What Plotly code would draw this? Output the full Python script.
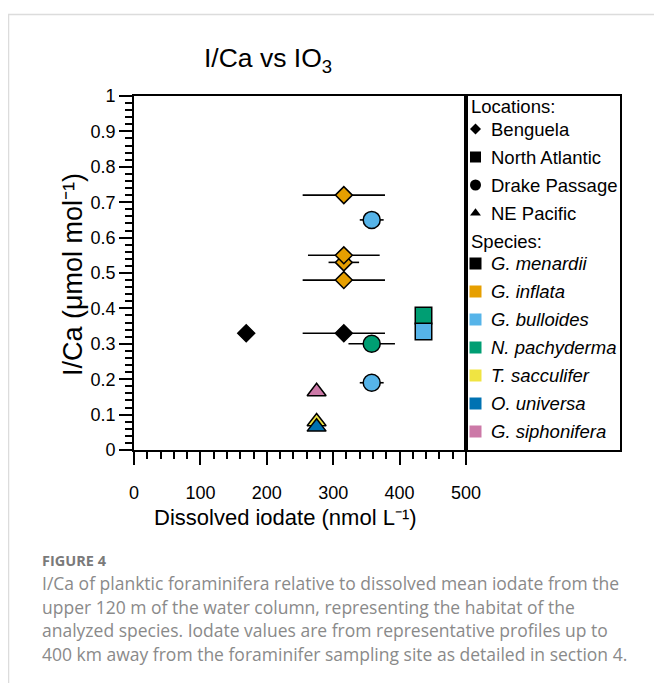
import plotly.graph_objects as go

# ---------------- data ----------------
species = ["G. menardii", "G. inflata", "G. bulloides", "N. pachyderma",
           "T. sacculifer", "O. universa", "G. siphonifera"]
species_colors = ["#000000", "#E69F00", "#56B4E9", "#009E73",
                  "#F0E442", "#0072B2", "#CC79A7"]
locations = ["Benguela", "North Atlantic", "Drake Passage", "NE Pacific"]
location_symbols = ["diamond", "square", "circle", "triangle-up"]

point_species = ["G. menardii", "G. menardii", "G. inflata", "G. inflata", "G. inflata",
                 "G. inflata", "G. bulloides", "G. bulloides", "N. pachyderma",
                 "N. pachyderma", "G. bulloides", "T. sacculifer", "O. universa",
                 "G. siphonifera"]
point_location = ["Benguela", "Benguela", "Benguela", "Benguela", "Benguela",
                  "Benguela", "Drake Passage", "Drake Passage", "Drake Passage",
                  "North Atlantic", "North Atlantic", "NE Pacific", "NE Pacific",
                  "NE Pacific"]
iodate = [169, 316, 316, 316, 316, 316, 358, 358, 358, 436, 436, 275, 275, 275]
iodate_err = [0, 62, 62, 23, 54, 62, 18, 18, 35, 0, 0, 0, 0, 0]
ica = [0.33, 0.33, 0.72, 0.53, 0.55, 0.48, 0.65, 0.19, 0.30, 0.38, 0.335, 0.08, 0.065, 0.165]

x_ticks = [0, 100, 200, 300, 400, 500]
y_ticks = [0, 0.1, 0.2, 0.3, 0.4, 0.5, 0.6, 0.7, 0.8, 0.9, 1]

title_text = "I/Ca vs IO<sub>3</sub>"
x_title = "Dissolved iodate (nmol L\u207b\u00b9)"
y_title = "I/Ca (\u03bcmol mol\u207b\u00b9)"
caption_head = "FIGURE 4"
caption_lines = [
    "I/Ca of planktic foraminifera relative to dissolved mean iodate from the",
    "upper 120 m of the water column, representing the habitat of the",
    "analyzed species. Iodate values are from representative profiles up to",
    "400 km away from the foraminifer sampling site as detailed in section 4.",
]

# ---------------- layout geometry (page px) ----------------
OFF = 8                      # page body margin
PAGE_W, PAGE_H = 662, 683
W, H = PAGE_W - OFF, PAGE_H - OFF
P_LEFT, P_RIGHT, P_TOP, P_BOTTOM = 134, 466, 96, 450   # data area (page px)
LEG_RIGHT = 620
L = P_LEFT - OFF
T = P_TOP - OFF
B = H - (P_BOTTOM - OFF)
R = W - (LEG_RIGHT - OFF)
PW = W - L - R
PH = H - T - B
x_dom_end = (P_RIGHT - P_LEFT) / PW


def px_x(px):
    return (px - P_LEFT) / PW


def px_y(py):
    return (P_BOTTOM - py) / PH


FONT = "Liberation Sans, Arial, sans-serif"
CAP_FONT = "Open Sans, Noto Sans, sans-serif"

sym_size = {"diamond": 13, "square": 16.5, "circle": 17, "triangle-up": 16.5}
loc_sym = dict(zip(locations, location_symbols))
sp_col = dict(zip(species, species_colors))

fig = go.Figure()

fig.add_trace(go.Scatter(
    x=iodate, y=ica, mode="markers",
    marker=dict(
        symbol=[loc_sym[l] for l in point_location],
        color=[sp_col[s] for s in point_species],
        size=[sym_size[loc_sym[l]] for l in point_location],
        opacity=1,
        line=dict(color="black", width=1.5),
    ),
    error_x=dict(type="data", array=iodate_err, symmetric=True,
                 color="black", thickness=1.6, width=0),
    showlegend=False, hoverinfo="skip", xaxis="x", yaxis="y",
))

# ---------------- custom legend (in x2/y2 box) ----------------
LEG_W = LEG_RIGHT - P_RIGHT


def lx(px):
    return (px - P_RIGHT) / LEG_W


rows = []  # (kind, text, symbol, color, size)
rows.append(("head", "Locations:", None, None, None))
leg_loc_size = {"diamond": 8.5, "square": 11, "circle": 11, "triangle-up": 9.5}
for loc, sym in zip(locations, location_symbols):
    rows.append(("item", loc, sym, "#000000", leg_loc_size[sym]))
rows.append(("head", "Species:", None, None, None))
for sp, col in zip(species, species_colors):
    rows.append(("item", "<i>" + sp + "</i>", "square", col, 12))

row_py = []
y_cur = 106.5
prev = None
for r in rows:
    if prev is not None:
        y_cur += 22.5 if prev == "head" else 28
    row_py.append(y_cur)
    prev = r[0]

sx, sy, ss, sc, sz = [], [], [], [], []
annotations = []
LEG_FONT = dict(family=FONT, size=18.5, color="black")
for (kind, text, sym, col, size), py in zip(rows, row_py):
    if kind == "head":
        annotations.append(dict(x=lx(469), y=px_y(py), xref="x2", yref="y2",
                                text=text, showarrow=False, xanchor="left",
                                yanchor="middle", font=LEG_FONT))
    else:
        sx.append(lx(475.5))
        sy.append(px_y(py))
        ss.append(sym)
        sc.append(col)
        sz.append(size)
        annotations.append(dict(x=lx(489), y=px_y(py), xref="x2", yref="y2",
                                text=text, showarrow=False, xanchor="left",
                                yanchor="middle", font=LEG_FONT))

fig.add_trace(go.Scatter(
    x=sx, y=sy, mode="markers", xaxis="x2", yaxis="y2",
    marker=dict(symbol=ss, color=sc, size=sz, opacity=1, line=dict(width=0)),
    showlegend=False, hoverinfo="skip",
))

# ---------------- titles & caption ----------------
annotations.append(dict(x=px_x(268), y=px_y(60), xref="paper", yref="paper",
                        text=title_text, showarrow=False, xanchor="center", yanchor="middle",
                        font=dict(family=FONT, size=26.5, color="black")))
annotations.append(dict(x=px_x(285), y=px_y(517), xref="paper", yref="paper",
                        text=x_title, showarrow=False, xanchor="center", yanchor="middle",
                        font=dict(family=FONT, size=22, color="black")))
annotations.append(dict(x=px_x(73), y=px_y(275), xref="paper", yref="paper",
                        text=y_title, showarrow=False, xanchor="center", yanchor="middle",
                        textangle=-90, font=dict(family=FONT, size=27, color="black")))
annotations.append(dict(x=px_x(40), y=px_y(560), xref="paper", yref="paper",
                        text="<b>" + caption_head + "</b>", showarrow=False,
                        xanchor="left", yanchor="middle",
                        font=dict(family=CAP_FONT, size=14.5, color="#7a7a7a")))
for i, line in enumerate(caption_lines):
    annotations.append(dict(x=px_x(40), y=px_y(583 + 23.5 * i), xref="paper", yref="paper",
                            text=line, showarrow=False, xanchor="left", yanchor="middle",
                            font=dict(family=CAP_FONT, size=17.5, color="#8a8a8a")))

axis_common = dict(showgrid=False, zeroline=False, showline=True, linecolor="black",
                   linewidth=1.6, mirror=True, ticks="outside", ticklen=13, tickwidth=1.5,
                   tickcolor="black", tickfont=dict(family=FONT, size=18, color="black"))

fig.update_layout(
    width=W, height=H,
    margin=dict(l=L, r=R, t=T, b=B, pad=0),
    paper_bgcolor="white", plot_bgcolor="white",
    showlegend=False,
    xaxis=dict(domain=[0, x_dom_end], range=[0, 500], tickmode="array",
               tickvals=x_ticks, ticktext=[str(v) for v in x_ticks],
               minor=dict(ticks="outside", ticklen=7, dtick=20, tick0=0,
                          tickwidth=1.5, tickcolor="black", showgrid=False),
               ticklabelstandoff=13, anchor="y", **axis_common),
    yaxis=dict(domain=[0, 1], range=[0, 1], tickmode="array",
               tickvals=y_ticks, ticktext=[("%g" % v) for v in y_ticks],
               minor=dict(ticks="outside", ticklen=7, dtick=0.02, tick0=0,
                          tickwidth=1.5, tickcolor="black", showgrid=False),
               ticklabelstandoff=0, anchor="x", **axis_common),
    xaxis2=dict(domain=[x_dom_end, 1], range=[0, 1], anchor="y2", showgrid=False,
                zeroline=False, showline=True, mirror=True, linecolor="black",
                linewidth=1.6, showticklabels=False, ticks=""),
    yaxis2=dict(domain=[0, 1], range=[0, 1], anchor="x2", showgrid=False,
                zeroline=False, showline=True, mirror=True, linecolor="black",
                linewidth=1.6, showticklabels=False, ticks=""),
    annotations=annotations,
    shapes=[dict(type="rect", xref="paper", yref="paper",
                 x0=px_x(8.5), x1=px_x(720), y0=px_y(760), y1=px_y(14.5),
                 line=dict(color="#dcdcdc", width=1.5), fillcolor="rgba(0,0,0,0)",
                 layer="below")],
)

fig.write_html("out.html")
